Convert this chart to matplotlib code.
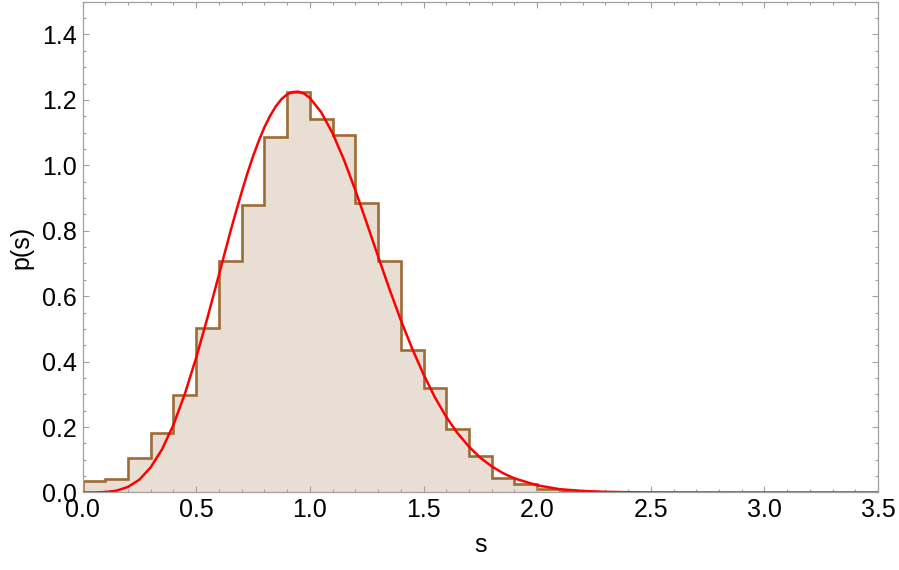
import matplotlib.pyplot as plt
from matplotlib.ticker import MultipleLocator

# histogram: bin edges and heights
bin_edges = [0.0, 0.1, 0.2, 0.3, 0.4, 0.5, 0.6, 0.7, 0.8, 0.9, 1.0, 1.1,
             1.2, 1.3, 1.4, 1.5, 1.6, 1.7, 1.8, 1.9, 2.0, 2.1, 2.2]
bin_heights = [0.036, 0.041, 0.106, 0.183, 0.297, 0.503, 0.709, 0.879,
               1.086, 1.224, 1.142, 1.093, 0.886, 0.707, 0.435, 0.318,
               0.195, 0.112, 0.045, 0.025, 0.010, 0.003]

# red curve, points
curve_s = [0.0, 0.05, 0.1, 0.15, 0.2, 0.25, 0.3, 0.35, 0.4, 0.45, 0.5, 0.55,
           0.6, 0.65, 0.675, 0.7, 0.725, 0.75, 0.775, 0.8, 0.825, 0.85, 0.875,
           0.9, 0.925, 0.95, 0.975, 1.0, 1.05, 1.1, 1.15,
           1.2, 1.25, 1.3, 1.35, 1.4, 1.45, 1.5, 1.55, 1.6, 1.65, 1.7, 1.75,
           1.8, 1.85, 1.9, 2.0, 2.1, 2.2, 2.3, 2.4, 2.5, 2.7, 3.0, 3.5]
curve_p = [0.0, 0.0001, 0.0011, 0.0056, 0.017, 0.039, 0.077, 0.132, 0.207,
           0.301, 0.412, 0.535, 0.665, 0.796, 0.858, 0.918, 0.975, 1.027,
           1.074, 1.116, 1.151, 1.180, 1.202, 1.217, 1.224, 1.225, 1.219,
           1.206, 1.162, 1.098, 1.017, 0.924, 0.824, 0.722,
           0.622, 0.527, 0.440, 0.361, 0.291, 0.231, 0.181, 0.140, 0.106,
           0.080, 0.059, 0.043, 0.022, 0.010, 0.0047, 0.002, 0.0008, 0.0003,
           0.00004, 0.0, 0.0]

plt.rcParams['font.family'] = ['Liberation Sans', 'DejaVu Sans']
plt.rcParams['font.size'] = 18

fig = plt.figure(figsize=(8.99, 5.70), dpi=100)
ax = fig.add_axes([0.0918, 0.136, 0.885, 0.861])

ax.stairs(bin_heights, bin_edges, fill=True, color='#E8DED3', lw=0)
ax.stairs(bin_heights, bin_edges, color='#9D6B35', lw=1.9)
ax.plot(curve_s, curve_p, color='#FF0000', lw=1.8)

ax.set_xlim(0, 3.5)
ax.set_ylim(0, 1.5)
ax.xaxis.set_major_locator(MultipleLocator(0.5))
ax.xaxis.set_minor_locator(MultipleLocator(0.1))
ax.yaxis.set_minor_locator(MultipleLocator(0.05))
ax.set_yticks([0.0, 0.2, 0.4, 0.6, 0.8, 1.0, 1.2, 1.4])
ax.xaxis.set_major_formatter(lambda v, p: f"{v:.1f}")
ax.yaxis.set_major_formatter(lambda v, p: f"{v:.1f}")

ax.tick_params(which='both', direction='in', top=True, right=True,
               color='#A0A0A0', width=0.8)
ax.tick_params(which='major', length=4.5, pad=4)
ax.tick_params(which='minor', length=2.5)
for sp in ax.spines.values():
    sp.set_color('#A0A0A0')
    sp.set_linewidth(0.9)

ax.set_xlabel('s', labelpad=8)
ax.set_ylabel('p(s)', labelpad=6)

fig.savefig('out.png')
